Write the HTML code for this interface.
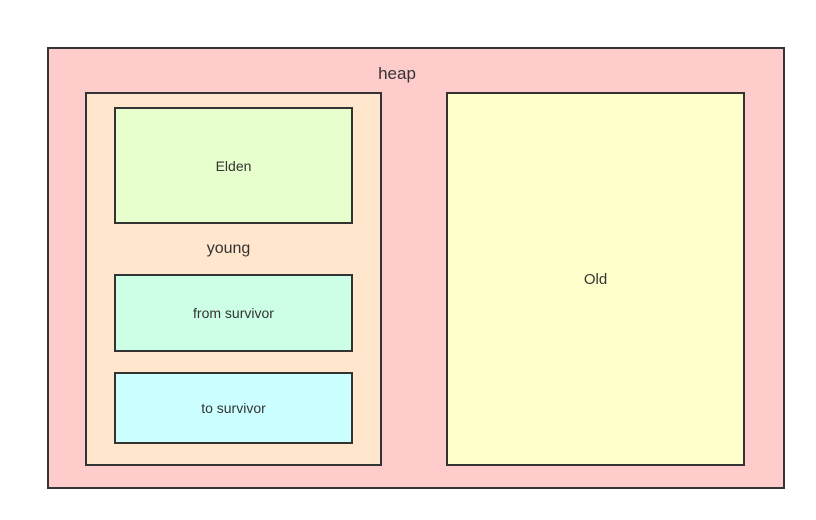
<!DOCTYPE html>
<html><head><style>
body{margin:0;width:816px;height:520px;background:#fff;position:relative;font-family:"Liberation Sans",sans-serif;color:#333;overflow:hidden}
.b{position:absolute;box-sizing:border-box;border:2px solid #333}
.t{position:absolute;text-align:center;font-size:14px}
</style></head><body>
<div class="b" style="left:47px;top:47px;width:738px;height:442px;background:#ffcccc"></div>
<div class="t" style="left:47px;width:700px;top:64px;font-size:17px">heap</div>
<div class="b" style="left:85px;top:92px;width:297px;height:374px;background:#ffe6cc"></div>
<div class="t" style="left:85px;width:287px;top:240px;font-size:16px">young</div>
<div class="b" style="left:114px;top:107px;width:239px;height:117px;background:#e6ffcc"></div>
<div class="t" style="left:114px;width:239px;top:158px">Elden</div>
<div class="b" style="left:114px;top:274px;width:239px;height:78px;background:#ccffe6"></div>
<div class="t" style="left:114px;width:239px;top:305px">from survivor</div>
<div class="b" style="left:114px;top:372px;width:239px;height:72px;background:#ccffff"></div>
<div class="t" style="left:114px;width:239px;top:400px">to survivor</div>
<div class="b" style="left:446px;top:92px;width:299px;height:374px;background:#ffffcc"></div>
<div class="t" style="left:446px;width:299px;top:271px;font-size:15px">Old</div>
</body></html>
